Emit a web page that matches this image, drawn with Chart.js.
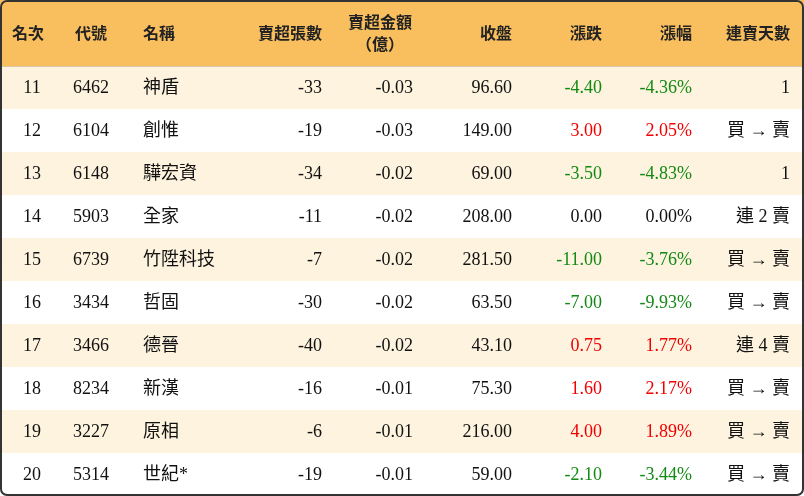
<!DOCTYPE html>
<html><head><meta charset="utf-8">
<script src="https://cdn.jsdelivr.net/npm/chart.js@4"></script>
<style>html,body{margin:0;padding:0;background:#fff}#w{width:804px;height:496px}</style>
</head><body><div id="w"><canvas id="c"></canvas></div>
<script>
const headers = ["名次","代號","名稱","賣超張數","賣超金額\n（億）","收盤","漲跌","漲幅","連賣天數"];
const ranks = [11,12,13,14,15,16,17,18,19,20];
const codes = ["6462","6104","6148","5903","6739","3434","3466","8234","3227","5314"];
const names = ["神盾","創惟","驊宏資","全家","竹陞科技","哲固","德晉","新漢","原相","世紀*"];
const volumes = [-33,-19,-34,-11,-7,-30,-40,-16,-6,-19];
const amounts = [-0.03,-0.03,-0.02,-0.02,-0.02,-0.02,-0.02,-0.01,-0.01,-0.01];
const closes = [96.60,149.00,69.00,208.00,281.50,63.50,43.10,75.30,216.00,59.00];
const changes = [-4.40,3.00,-3.50,0.00,-11.00,-7.00,0.75,1.60,4.00,-2.10];
const pcts = [-4.36,2.05,-4.83,0.00,-3.76,-9.93,1.77,2.17,1.89,-3.44];
const streaks = ["1","買 → 賣","1","連 2 賣","買 → 賣","買 → 賣","連 4 賣","買 → 賣","買 → 賣","買 → 賣"];

const cols = [
 {x:32,a:"center",hx:12,ha:"left"},{x:73,a:"left",hx:75,ha:"left"},{x:143,a:"left",hx:143,ha:"left"},
 {x:322,a:"right",hx:322,ha:"right"},{x:413,a:"right",hx:380,ha:"center"},{x:512,a:"right",hx:512,ha:"right"},
 {x:602,a:"right",hx:602,ha:"right"},{x:692,a:"right",hx:692,ha:"right"},{x:790,a:"right",hx:790,ha:"right"}];
const col = v => v>0?"#f00000":(v<0?"#138a13":"#111");
function cells(i){return [
 {t:String(ranks[i])},{t:codes[i]},{t:names[i]},{t:String(volumes[i])},{t:amounts[i].toFixed(2)},
 {t:closes[i].toFixed(2)},{t:changes[i].toFixed(2),c:col(changes[i])},{t:pcts[i].toFixed(2)+"%",c:col(pcts[i])},{t:streaks[i]}];}

const pts=[];ranks.forEach((r,i)=>cols.forEach((c,j)=>pts.push({x:c.x,y:i+0.5})));
const FONT='"Liberation Serif","Noto Sans CJK TC",serif';
const tablePlugin={id:'tbl',beforeDatasetsDraw(ch){
 const {ctx,scales:{x,y}}=ch;ctx.save();
 const top=y.getPixelForValue(y.min), h0=y.getPixelForValue(0);
 ctx.fillStyle="#f9bf5e";ctx.fillRect(0,top,804,h0-top);
 ranks.forEach((r,i)=>{const a=y.getPixelForValue(i),b=y.getPixelForValue(i+1);
  ctx.fillStyle=i%2===0?"#fdf3df":"#ffffff";ctx.fillRect(0,a,804,b-a);});
 ctx.strokeStyle="#d8c9a8";ctx.lineWidth=1;ctx.beginPath();ctx.moveTo(0,h0+0.5);ctx.lineTo(804,h0+0.5);ctx.stroke();
 ctx.textBaseline="middle";
 const hc=y.getPixelForValue(-0.77);
 headers.forEach((t,j)=>{ctx.fillStyle="#222";ctx.font='bold 16px "Noto Sans CJK TC",sans-serif';ctx.textAlign=cols[j].ha;
  const L=t.split("\n");
  if(L.length===1)ctx.fillText(L[0],x.getPixelForValue(cols[j].hx),hc);
  else{ctx.fillText(L[0],x.getPixelForValue(cols[j].hx),hc-11);ctx.fillText(L[1],x.getPixelForValue(cols[j].hx),hc+11);}});
 ranks.forEach((r,i)=>{const cy=y.getPixelForValue(i+0.5);cells(i).forEach((c,j)=>{
  ctx.fillStyle=c.c||"#111";ctx.font='18px '+FONT;ctx.textAlign=cols[j].a;ctx.fillText(c.t,x.getPixelForValue(cols[j].x),cy+1);});});
 ctx.strokeStyle="#333";ctx.lineWidth=2;ctx.beginPath();ctx.roundRect(1,1,802,494,6);ctx.stroke();
 ctx.restore();}};
new Chart(document.getElementById('c'),{type:'scatter',
 data:{datasets:[{data:pts,pointRadius:0,pointHoverRadius:0}]},
 options:{responsive:true,maintainAspectRatio:false,animation:false,layout:{padding:0},
  plugins:{legend:{display:false},tooltip:{enabled:false}},
  scales:{x:{type:'linear',min:0,max:804,display:false},y:{type:'linear',reverse:true,min:-1.535,max:10,display:false}}},
 plugins:[tablePlugin]});
</script></body></html>
